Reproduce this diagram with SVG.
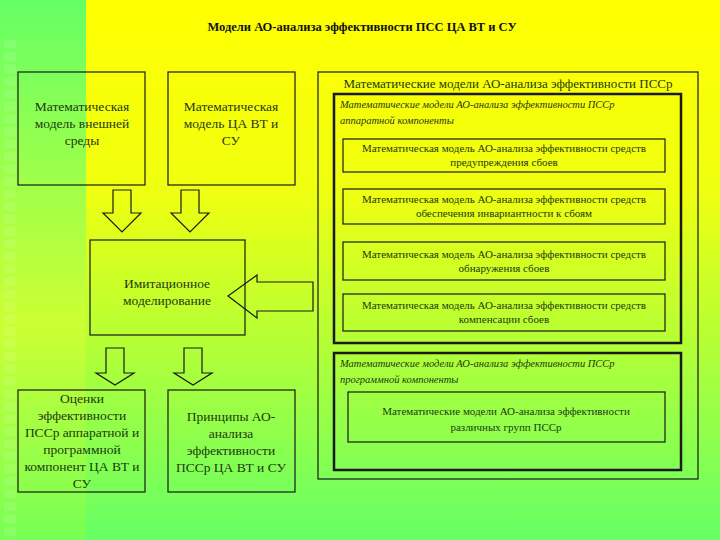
<svg xmlns="http://www.w3.org/2000/svg" width="720" height="540" viewBox="0 0 720 540" font-family="Liberation Serif, serif">
<defs>
<linearGradient id="bg" x1="0" y1="0" x2="0" y2="1"><stop offset="0" stop-color="#ffff00"/><stop offset="0.35" stop-color="#f0ff10"/><stop offset="1" stop-color="#66ff66"/></linearGradient>
<linearGradient id="bgl" x1="0" y1="0" x2="0" y2="1"><stop offset="0" stop-color="#66ff66"/><stop offset="0.6" stop-color="#ccff33"/><stop offset="1" stop-color="#77ff55"/></linearGradient>
<pattern id="sq" width="20" height="12.5" patternUnits="userSpaceOnUse"><rect x="4" y="2" width="12" height="9" fill="#ffffff" opacity="0.1"/></pattern>
</defs>
<style>
.b{fill:none;stroke:#1a1a1a;stroke-width:1.2}
.bt{fill:none;stroke:#1a1a1a;stroke-width:2.5}
text{fill:#1e3a10}
.t{font-size:13.5px;text-anchor:middle}
.s{font-size:11px;text-anchor:middle}
.i{font-size:10.5px;font-style:italic}
.a{fill:none;stroke:#1a1a1a;stroke-width:1.2}
</style>
<rect width="720" height="540" fill="url(#bg)"/>
<rect width="86" height="540" fill="url(#bgl)"/>
<rect x="0" y="40" width="22" height="500" fill="url(#sq)"/>
<text x="362" y="31" font-size="12.5" font-weight="bold" style="fill:#111" text-anchor="middle">Модели АО-анализа эффективности ПСС ЦА ВТ и СУ</text>
<g id="n1"><rect class="b" x="18" y="72" width="127" height="113"/><text class="t" x="82" y="111">Математическая</text><text class="t" x="82" y="128">модель внешней</text><text class="t" x="82" y="145">среды</text></g>
<g id="n2"><rect class="b" x="168" y="72" width="127" height="113"/><text class="t" x="231" y="111">Математическая</text><text class="t" x="231" y="128">модель ЦА ВТ и</text><text class="t" x="231" y="145">СУ</text></g>
<g id="n3"><rect class="b" x="90" y="240" width="155" height="95"/><text class="t" x="167" y="288">Имитационное</text><text class="t" x="167" y="305">моделирование</text></g>
<g id="n4"><rect class="b" x="18" y="390" width="127" height="102"/><text class="t" x="82" y="403">Оценки</text><text class="t" x="82" y="420">эффективности</text><text class="t" x="82" y="437">ПССр аппаратной и</text><text class="t" x="82" y="454">программной</text><text class="t" x="82" y="471">компонент ЦА ВТ и</text><text class="t" x="82" y="488">СУ</text></g>
<g id="n5"><rect class="b" x="168" y="390" width="127" height="102"/><text class="t" x="231" y="421">Принципы АО-</text><text class="t" x="231" y="438">анализа</text><text class="t" x="231" y="455">эффективности</text><text class="t" x="231" y="472">ПССр ЦА ВТ и СУ</text></g>
<g id="outer"><rect class="b" x="318" y="72" width="380" height="407"/><text class="t" x="508" y="88" style="font-size:13px">Математические модели АО-анализа эффективности ПССр</text></g>
<g id="hw"><rect class="bt" x="334" y="94" width="347" height="249"/><text class="i" x="340" y="108">Математические модели АО-анализа эффективности ПССр</text><text class="i" x="340" y="124">аппаратной компоненты</text></g>
<g id="h1"><rect class="b" x="343" y="139" width="322" height="33"/><text class="s" x="504" y="152">Математическая модель АО-анализа эффективности средств</text><text class="s" x="504" y="166">предупреждения сбоев</text></g>
<g id="h2"><rect class="b" x="343" y="189" width="322" height="35"/><text class="s" x="504" y="203">Математическая модель АО-анализа эффективности средств</text><text class="s" x="504" y="217">обеспечения инвариантности к сбоям</text></g>
<g id="h3"><rect class="b" x="343" y="242" width="322" height="38"/><text class="s" x="504" y="258">Математическая модель АО-анализа эффективности средств</text><text class="s" x="504" y="272">обнаружения сбоев</text></g>
<g id="h4"><rect class="b" x="343" y="294" width="322" height="37"/><text class="s" x="504" y="309">Математическая модель АО-анализа эффективности средств</text><text class="s" x="504" y="323">компенсации сбоев</text></g>
<g id="sw"><rect class="bt" x="334" y="353" width="347" height="117"/><text class="i" x="340" y="367">Математические модели АО-анализа эффективности ПССр</text><text class="i" x="340" y="383">программной компоненты</text></g>
<g id="s1"><rect class="b" x="348" y="392" width="317" height="50"/><text class="s" x="506" y="415">Математические модели АО-анализа эффективности</text><text class="s" x="506" y="431">различных групп ПССр</text></g>
<g id="connectors">
<path class="a" d="M113 190 H131 V213 H141 L122 232 L103 213 H113 Z"/>
<path class="a" d="M181 190 H199 V213 H209 L190 232 L171 213 H181 Z"/>
<path class="a" d="M106 348 H124 V373 H134 L115 385 L96 373 H106 Z"/>
<path class="a" d="M184 348 H202 V373 H212 L193 385 L174 373 H184 Z"/>
<path class="a" d="M313 282 V311 H257 V318 L228 296 L257 275 V282 Z"/>
</g>
</svg>
